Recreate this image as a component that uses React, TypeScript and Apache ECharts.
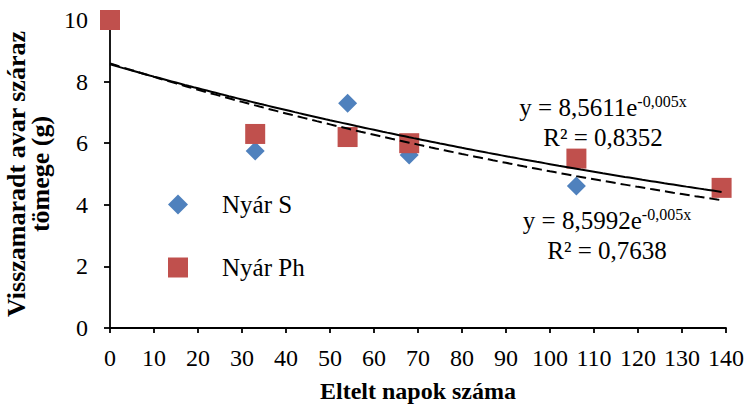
import React, { useEffect, useRef } from "react";
import * as echarts from "echarts";

const days = [0, 33, 54, 68, 106, 139];
const nyarS = [10, 5.75, 7.3, 5.62, 4.61, 4.55];
const nyarPh = [10, 6.3, 6.2, 6.0, 5.5, 4.55];
const seriesNames = ["Nyár S", "Nyár Ph"];
const eqPh = { coef: "8,5611", exp: "-0,005x", r2: "0,8352" };
const eqS = { coef: "8,5992", exp: "-0,005x", r2: "0,7638" };

const FONT = "'Liberation Serif', 'DejaVu Serif', serif";

function expFit(xs: number[], ys: number[]) {
  const n = xs.length;
  const ls = ys.map((y) => Math.log(y));
  const xm = xs.reduce((s, v) => s + v, 0) / n;
  const lm = ls.reduce((s, v) => s + v, 0) / n;
  let sxy = 0;
  let sxx = 0;
  for (let i = 0; i < n; i++) {
    sxy += (xs[i] - xm) * (ls[i] - lm);
    sxx += (xs[i] - xm) * (xs[i] - xm);
  }
  const b = sxy / sxx;
  const a = Math.exp(lm - b * xm);
  return { a, b };
}

function trend(xs: number[], ys: number[]) {
  const { a, b } = expFit(xs, ys);
  const pts: number[][] = [];
  for (let x = xs[0]; x <= xs[xs.length - 1]; x += 1) pts.push([x, a * Math.exp(b * x)]);
  return pts;
}

function eqText(x: number, y: number, coef: string, exp: string, r2: string) {
  const rich = {
    a: { fontSize: 25, fontFamily: FONT, fill: "#000", lineHeight: 28 },
    s: { fontSize: 16, fontFamily: FONT, fill: "#000", lineHeight: 16, verticalAlign: "top" },
  };
  return [
    {
      type: "text",
      x,
      y,
      style: {
        text: `{a|y = ${coef}e}{s|${exp}}`,
        rich,
        align: "center",
        verticalAlign: "middle",
      },
    },
    {
      type: "text",
      x,
      y: y + 30,
      style: {
        text: `R² = ${r2}`,
        fontSize: 25,
        fontFamily: FONT,
        fill: "#000",
        align: "center",
        verticalAlign: "middle",
      },
    },
  ];
}

export default function App() {
  const ref = useRef<HTMLDivElement>(null);
  useEffect(() => {
    document.body.style.margin = "0";
    if (!ref.current) return;
    const chart = echarts.init(ref.current, undefined, { renderer: "svg" });
    const axisCommon = {
      axisLine: { show: true, lineStyle: { color: "#000", width: 1.8 } },
      axisTick: { show: true, inside: false, lineStyle: { color: "#000", width: 1.8 } },
      splitLine: { show: false },
      axisLabel: { color: "#000", fontSize: 24, fontFamily: FONT },
      nameTextStyle: { color: "#000", fontSize: 24, fontFamily: FONT, fontWeight: "bold" },
    };
    chart.setOption({
      animation: false,
      textStyle: { fontFamily: FONT },
      grid: { left: 110, right: 19, top: 20, bottom: 80, outerBoundsMode: "none", containLabel: false },
      legend: {
        data: seriesNames,
        orient: "vertical",
        left: 168,
        top: 192,
        padding: 0,
        itemWidth: 20,
        itemHeight: 20,
        itemGap: 38,
        textStyle: { color: "#000", fontSize: 25, fontFamily: FONT, padding: [0, 0, 0, 29] },
      },
      xAxis: {
        ...axisCommon,
        type: "value",
        min: 0,
        max: 140,
        interval: 10,
        axisTick: { ...axisCommon.axisTick, length: 5 },
        axisLabel: { ...axisCommon.axisLabel, margin: 18 },
        name: "Eltelt napok száma",
        nameLocation: "middle",
        nameGap: 51,
      },
      yAxis: {
        ...axisCommon,
        type: "value",
        min: 0,
        max: 10,
        interval: 2,
        axisTick: { ...axisCommon.axisTick, length: 6 },
        axisLabel: { ...axisCommon.axisLabel, margin: 22 },
        name: "Visszamaradt avar száraz\ntömege (g)",
        nameLocation: "middle",
        nameGap: 46,
        nameTextStyle: { ...axisCommon.nameTextStyle, fontSize: 26, lineHeight: 24 },
      },
      series: [
        {
          name: seriesNames[0],
          type: "scatter",
          symbol: "diamond",
          symbolSize: 19,
          itemStyle: { color: "#4F81BD", opacity: 1 },
          data: days.map((d, i) => [d, nyarS[i]]),
          z: 2,
        },
        {
          name: seriesNames[1],
          type: "scatter",
          symbol: "rect",
          symbolSize: 20,
          itemStyle: { color: "#C0504D", opacity: 1 },
          data: days.map((d, i) => [d, nyarPh[i]]),
          z: 3,
        },
        {
          name: "trendS",
          type: "line",
          showSymbol: false,
          symbol: "none",
          lineStyle: { color: "#000", width: 2, type: [10, 5] },
          data: trend(days, nyarS),
          z: 4,
        },
        {
          name: "trendPh",
          type: "line",
          showSymbol: false,
          symbol: "none",
          lineStyle: { color: "#000", width: 2 },
          data: trend(days, nyarPh),
          z: 4,
        },
      ],
      graphic: [
        ...eqText(603, 107, eqPh.coef, eqPh.exp, eqPh.r2),
        ...eqText(607, 220, eqS.coef, eqS.exp, eqS.r2),
      ],
    });
    return () => chart.dispose();
  }, []);
  return <div ref={ref} style={{ width: 745, height: 408 }} />;
}
